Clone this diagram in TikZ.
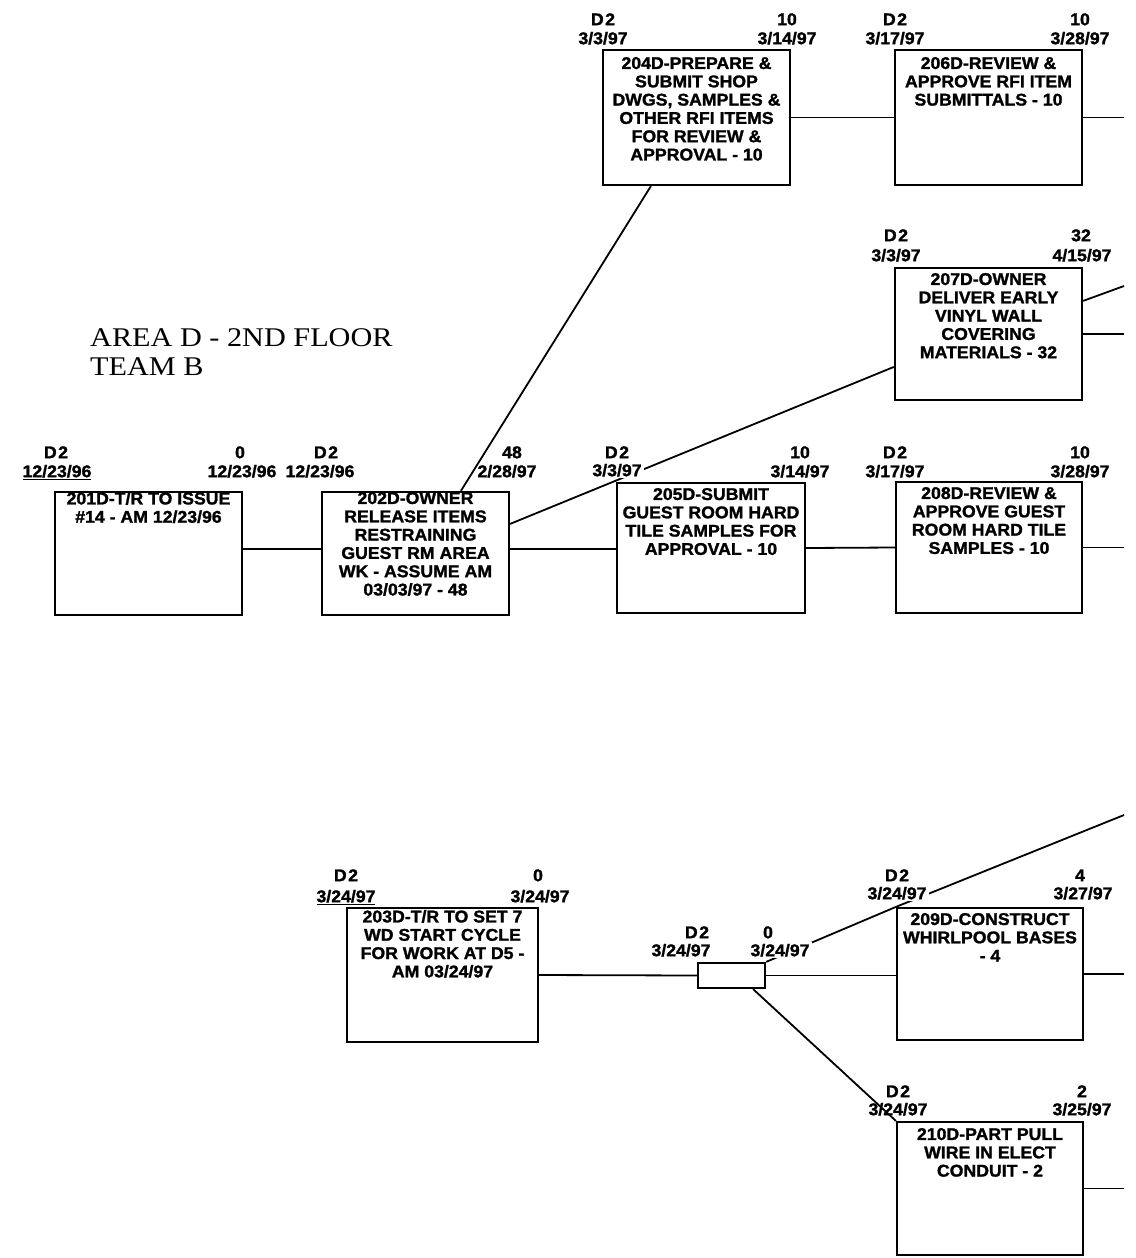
\documentclass[tikz,border=0pt]{standalone}
\usepackage{fontspec}
\newfontfamily\boxfont[FakeStretch=1.04, FakeBold=1.4]{Liberation Sans Bold}
\newfontfamily\titlefont[FakeStretch=1.12]{Liberation Serif}
\newcommand\actbox[7]{%
  \node[abox, minimum width={#4-#2}, minimum height={#5-#3}] (#1) at ({(#2+#4)/2},{(#3+#5)/2}) {};
  \node[atext, yshift={-#6}] (#1t) at (#1.north) {#7};}
\newcommand\dtwo{D\kern1.5pt 2}
\begin{document}
\begin{tikzpicture}[x=1pt,y=-1pt,
  abox/.style={draw, line width=2.2pt, rectangle, inner sep=0pt},
  atext/.style={anchor=north, align=center, inner sep=0pt, font=\boxfont\fontsize{17}{18.3}\selectfont},
  lbl/.style={inner sep=1pt, text height=12.4pt, text depth=0pt, font=\boxfont\fontsize{17}{18}\selectfont},
  lblw/.style={lbl, fill=white, inner sep=2pt},
  conn/.style={line width=1.8pt},
  ttl/.style={anchor=base west, inner sep=0pt, font=\titlefont\fontsize{27}{30}\selectfont}]
\fill[white] (0,0) rectangle (1135,1258);
\useasboundingbox (0,0) rectangle (1135,1258);

% title
\node[ttl] (title1) at (90,346) {AREA D - 2ND FLOOR};
\node[ttl] (title2) at (90,375) {TEAM B};

% activity boxes
\actbox{n204}{603}{50}{790}{185}{8}{204D-PREPARE \&\\SUBMIT SHOP\\DWGS, SAMPLES \&\\OTHER RFI ITEMS\\FOR REVIEW \&\\APPROVAL - 10}
\actbox{n206}{895}{50}{1082}{185}{8}{206D-REVIEW \&\\APPROVE RFI ITEM\\SUBMITTALS - 10}
\actbox{n207}{895}{268}{1082}{400}{6}{207D-OWNER\\DELIVER EARLY\\VINYL WALL\\COVERING\\MATERIALS - 32}
\actbox{n201}{55}{492}{242}{615}{1}{201D-T/R TO ISSUE\\\#14 - AM 12/23/96}
\actbox{n202}{322}{492}{509}{615}{1}{202D-OWNER\\RELEASE ITEMS\\RESTRAINING\\GUEST RM AREA\\WK - ASSUME AM\\03/03/97 - 48}
\actbox{n205}{617}{483}{805}{613}{6}{205D-SUBMIT\\GUEST ROOM HARD\\TILE SAMPLES FOR\\APPROVAL - 10}
\actbox{n208}{896}{482}{1082}{613}{6}{208D-REVIEW \&\\APPROVE GUEST\\ROOM HARD TILE\\SAMPLES - 10}
\actbox{n203}{347}{908}{538}{1042}{3}{203D-T/R TO SET 7\\WD START CYCLE\\FOR WORK AT D5 -\\AM 03/24/97}
\node[abox, minimum width=67, minimum height=25] (nms) at (731.5,975.5) {};
\actbox{n209}{897}{908}{1083}{1040}{6}{209D-CONSTRUCT\\WHIRLPOOL BASES\\- 4}
\actbox{n210}{897}{1122}{1083}{1255}{7}{210D-PART PULL\\WIRE IN ELECT\\CONDUIT - 2}

% free ends
\coordinate (e206) at (1124,117.5);
\coordinate (e207a) at (1124,286);
\coordinate (e207b) at (1124,334);
\coordinate (e208) at (1124,547.5);
\coordinate (e209) at (1124,974);
\coordinate (e209up) at (1124,815);
\coordinate (e210) at (1124,1188.5);

% connectors
\draw[conn] (n204.east) -- (n206.west);
\draw[conn] (n206.east) -- (e206);
\draw[conn] ([yshift=-34pt]n207.north east) -- (e207a);
\draw[conn] (n207.east) -- (e207b);
\draw[conn] ([yshift=-58pt]n201.north east) -- ([yshift=-58pt]n202.north west);
\draw[conn] ([yshift=-58pt]n202.north east) -- ([yshift=-67pt]n205.north west);
\draw[conn] (n205.east) -- (n208.west);
\draw[conn] (n208.east) -- (e208);
\draw[conn] ([xshift=140pt]n202.north west) -- ([xshift=49pt]n204.south west);
\draw[conn] ([yshift=-33pt]n202.north east) -- ([yshift=-100pt]n207.north west);
\draw[conn] (n203.east) -- (nms.west);
\draw[conn] (nms.east) -- (nms.east -| n209.west);
\draw[conn] (nms.north east) -- (n209.north west);
\draw[conn] (n209.north west) -- (e209up);
\draw[conn] (n209.east) -- (e209);
\draw[conn] (n210.east) -- (e210);

% date / duration labels
\node[lbl] (l204a) at (603,19) {\dtwo};
\node[lbl] (l204b) at (603,38) {3/3/97};
\node[lbl] (l204c) at (787,19) {10};
\node[lbl] (l204d) at (787,38) {3/14/97};
\node[lbl] (l206a) at (895,19) {\dtwo};
\node[lbl] (l206b) at (895,38) {3/17/97};
\node[lbl] (l206c) at (1080,19) {10};
\node[lbl] (l206d) at (1080,38) {3/28/97};

\node[lbl] (l207a) at (896,235) {\dtwo};
\node[lbl] (l207b) at (896,255) {3/3/97};
\node[lbl] (l207c) at (1081,235) {32};
\node[lbl] (l207d) at (1082,255) {4/15/97};

\node[lbl] (l201a) at (56,452) {\dtwo};
\node[lbl] (l201b) at (57,471) {\underline{12/23/96}};
\node[lbl] (l201c) at (240,452) {0};
\node[lbl] (l201d) at (242,471) {12/23/96};
\node[lbl] (l202a) at (326,452) {\dtwo};
\node[lbl] (l202b) at (320,471) {12/23/96};
\node[lbl] (l202c) at (512,452) {48};
\node[lbl] (l202d) at (507,471) {2/28/97};
\node[lbl] (l205a) at (617,452) {\dtwo};
\node[lblw] (l205b) at (617,470) {3/3/97};
\node[lbl] (l205c) at (800,452) {10};
\node[lbl] (l205d) at (800,471) {3/14/97};
\node[lbl] (l208a) at (895,452) {\dtwo};
\node[lbl] (l208b) at (895,471) {3/17/97};
\node[lbl] (l208c) at (1080,452) {10};
\node[lbl] (l208d) at (1080,471) {3/28/97};

\node[lbl] (l203a) at (346,875) {\dtwo};
\node[lbl] (l203b) at (346,896) {\underline{3/24/97}};
\node[lbl] (l203c) at (538,875) {0};
\node[lbl] (l203d) at (540,896) {3/24/97};
\node[lbl] (lmsa) at (697,932) {\dtwo};
\node[lbl] (lmsb) at (681,950) {3/24/97};
\node[lbl] (lmsc) at (768,932) {0};
\node[lblw] (lmsd) at (780,950) {3/24/97};
\node[lbl] (l209a) at (897,875) {\dtwo};
\node[lblw] (l209b) at (897,893) {3/24/97};
\node[lbl] (l209c) at (1080,875) {4};
\node[lbl] (l209d) at (1083,893) {3/27/97};
\node[lbl] (l210a) at (898,1091) {\dtwo};
\node[lbl] (l210b) at (898,1109) {3/24/97};
\node[lbl] (l210c) at (1082,1091) {2};
\node[lbl] (l210d) at (1082,1109) {3/25/97};

\draw[conn] ([xshift=-13pt]nms.south east) -- (n210.north west);
\end{tikzpicture}
\end{document}
